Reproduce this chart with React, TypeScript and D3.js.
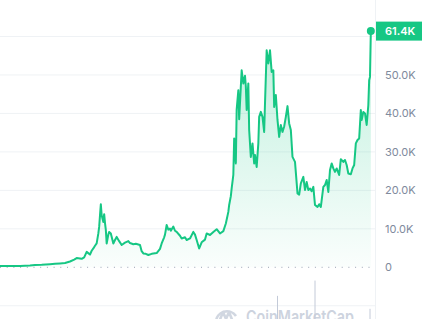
import React from "react";
import * as d3 from "d3";

// Weekly BTC price (thousands of USD), indexed by week number from the start of the series
const weeks = [
  0, 12, 24, 36, 42, 50, 60, 66, 72, 78, 84, 89, 92, 96, 98, 101, 104, 107, 108, 110,
  112, 114, 116, 118, 119, 120, 121, 122, 124, 125, 126, 127, 128, 130, 131, 133, 136, 138, 140, 143,
  146, 150, 154, 156, 160, 163, 168, 170, 172, 175, 178, 182, 188, 192, 194, 197, 198, 200, 202, 204,
  205, 208, 210, 212, 216, 218, 222, 224, 228, 232, 234, 236, 239, 242, 246, 248, 252, 256, 260, 264,
  268, 271, 274, 275, 277, 278, 280, 281, 283, 284, 286, 287, 289, 290, 292, 294, 295, 296, 298, 299,
  301, 303, 305, 306, 308, 310, 311, 313, 315, 317, 318, 320, 322, 324, 326, 328, 329, 331, 333, 335,
  337, 339, 341, 343, 345, 347, 349, 351, 354, 357, 359, 361, 364, 366, 368, 370, 372, 374, 376, 378,
  381, 383, 385, 388, 390, 392, 394, 396, 398, 400, 402, 404, 407, 409, 412, 414, 416, 418, 421, 423,
  425, 427, 429, 431, 433, 434, 436, 438, 440, 442, 443, 444, 445,
];
const prices = [
  0.34, 0.35, 0.36, 0.45, 0.6, 0.65, 0.8, 0.9, 1.0, 1.1, 1.5, 2.0, 2.4, 2.3, 2.2, 2.6, 4.0, 3.5, 3.3, 4.3,
  4.9, 5.6, 6.2, 8.8, 10.5, 13.5, 16.4, 13.5, 11.8, 13.8, 11.5, 9.7, 6.2, 8.5, 9.2, 8.8, 6.2, 7.1, 7.9, 6.8,
  5.8, 6.4, 6.8, 6.3, 6.0, 6.1, 5.8, 4.2, 3.6, 3.5, 3.2, 3.5, 3.7, 4.8, 6.2, 7.8, 8.5, 11.0, 9.8, 10.1,
  9.5, 10.6, 9.5, 9.2, 8.2, 7.5, 7.8, 7.1, 7.5, 9.2, 8.5, 7.1, 4.9, 6.5, 7.2, 8.8, 8.4, 9.2, 9.9, 8.8,
  9.4, 11.4, 14.4, 16.2, 18.5, 20.5, 24.0, 33.5, 27.0, 41.0, 46.0, 38.5, 47.0, 51.2, 47.8, 49.8, 47.0, 40.9, 47.8, 35.7,
  28.7, 32.2, 27.0, 29.2, 26.1, 32.2, 39.1, 40.4, 39.1, 35.2, 42.6, 56.4, 53.0, 56.4, 50.8, 51.2, 41.7, 44.8, 38.3, 33.9,
  37.0, 35.2, 36.6, 39.1, 41.9, 37.4, 35.7, 28.7, 27.4, 19.2, 18.9, 21.8, 23.5, 20.1, 22.2, 20.1, 20.5, 19.8, 20.9, 16.2,
  15.7, 16.4, 15.7, 20.9, 21.4, 22.7, 19.6, 25.3, 27.0, 25.7, 24.8, 25.7, 24.0, 28.1, 27.4, 27.9, 26.6, 24.4, 24.2, 25.7,
  26.6, 32.2, 33.1, 33.5, 40.9, 38.3, 40.4, 40.0, 37.0, 42.2, 48.6, 49.5, 61.4,
];

// A few trading-volume spikes that reach into the view (billions of USD)
const volumeWeeks = [333, 378, 444];
const volumes = [118, 196, 52];

const tickValues = [0, 10, 20, 30, 40, 50];
const gridValues = [-10, 10, 20, 30, 40, 50, 60];
const lastLabel = "61.4K";

const W = 444;
const H = 319;
const GREEN = "#16c784";
const GRID = "#eff2f5";
const AXIS_TEXT = "#808a9d";

export default function App() {
  const x = d3.scaleLinear().domain([0, 450]).range([0, 375]);
  const y = d3.scaleLinear().domain([0, 60]).range([267.3, 36.5]);
  const vol = d3.scaleLinear().domain([0, 250]).range([H, 270]);

  const data = weeks.map((w, i) => ({ w, p: prices[i] }));
  const line = d3
    .line<{ w: number; p: number }>()
    .x((d) => x(d.w))
    .y((d) => y(d.p))
    .curve(d3.curveLinear);
  const area = d3
    .area<{ w: number; p: number }>()
    .x((d) => x(d.w))
    .y0(y(0))
    .y1((d) => y(d.p));

  const last = data[data.length - 1];
  const fmt = (v: number) => (v === 0 ? "0" : `${v.toFixed(1)}K`);

  return (
    <svg
      width={W}
      height={H}
      style={{ position: "absolute", left: 0, top: 0, fontFamily: "Inter, sans-serif" }}
    >
      <defs>
        <linearGradient id="areaFill" gradientUnits="userSpaceOnUse" x1="0" y1={y(61.4)} x2="0" y2={y(0)}>
          <stop offset="0%" stopColor={GREEN} stopOpacity={0.28} />
          <stop offset="100%" stopColor={GREEN} stopOpacity={0.02} />
        </linearGradient>
      </defs>
      <rect width={W} height={H} fill="#fff" />

      {gridValues.map((v) => (
        <line key={v} x1={0} x2={375} y1={y(v)} y2={y(v)} stroke={GRID} strokeWidth={1} />
      ))}
      <line x1={375.5} x2={375.5} y1={0} y2={H} stroke={GRID} strokeWidth={1} />

      {/* watermark, partly below the bottom edge */}
      <g fill="none" stroke="#cdd3de" strokeWidth={2.6} opacity={0.9}>
        <path d="M 216 322 A 11 11 0 0 1 236 316" />
        <path d="M 219 322 L 223 312 L 226 319 L 229 312 L 233 322" strokeLinejoin="round" />
      </g>
      <text
        x={246}
        y={323}
        fontSize={17}
        fontWeight={600}
        fill="#cdd3de"
        textLength={108}
        lengthAdjust="spacingAndGlyphs"
      >
        CoinMarketCap
      </text>

      {volumes.map((v, i) => (
        <line
          key={i}
          x1={x(volumeWeeks[i])}
          x2={x(volumeWeeks[i])}
          y1={vol(v)}
          y2={H}
          stroke="#c3cad8"
          strokeWidth={1}
        />
      ))}

      <path d={area(data) ?? ""} fill="url(#areaFill)" />
      <line
        x1={0}
        x2={375}
        y1={y(0)}
        y2={y(0)}
        stroke="#9aa3b5"
        strokeWidth={1}
        strokeDasharray="1 5.7"
      />
      <path d={line(data) ?? ""} fill="none" stroke={GREEN} strokeWidth={2} strokeLinejoin="round" />
      <circle cx={x(last.w)} cy={y(last.p)} r={4} fill={GREEN} />

      {tickValues.map((v) => (
        <text key={v} x={385} y={y(v)} dy="0.36em" fontSize={11} fill={AXIS_TEXT}>
          {fmt(v)}
        </text>
      ))}

      <rect x={376} y={y(last.p) - 9.5} width={46} height={19} fill={GREEN} />
      <text x={385} y={y(last.p)} dy="0.36em" fontSize={11} fontWeight={600} fill="#fff">
        {lastLabel}
      </text>
    </svg>
  );
}
